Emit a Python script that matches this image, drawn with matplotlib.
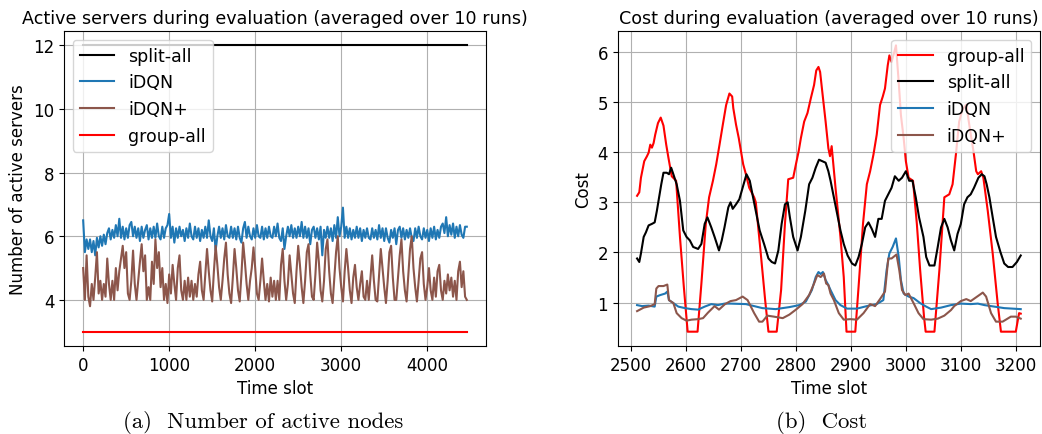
import numpy as np
import matplotlib.pyplot as plt

# ---- left panel: active servers, sampled every 20 time slots ----
t_left = np.arange(0, 4480, 20)

split_all_servers = 12.0
group_all_servers = 3.0

idqn_servers = [
    6.50, 5.50, 5.90, 5.60, 5.90, 5.50, 5.85, 5.40, 5.95, 5.65,
    6.00, 5.70, 6.05, 5.75, 6.10, 6.25, 5.90, 6.20, 5.95, 6.35,
    6.00, 6.55, 5.95, 6.30, 5.90, 6.25, 5.95, 6.35, 6.45, 6.00,
    6.30, 5.95, 6.25, 5.85, 6.30, 5.95, 6.20, 6.35, 5.90, 6.25,
    5.95, 6.30, 5.95, 6.40, 6.00, 5.90, 6.30, 5.95, 6.25, 6.35,
    6.70, 5.95, 6.30, 5.80, 6.25, 5.95, 6.30, 6.00, 6.20, 5.85,
    6.25, 5.95, 6.40, 6.00, 5.90, 6.30, 5.95, 6.25, 5.85, 6.20,
    5.95, 6.30, 5.95, 6.50, 6.00, 5.85, 6.25, 5.55, 6.00, 6.30,
    5.95, 6.25, 5.90, 6.35, 6.00, 5.95, 6.30, 5.95, 6.25, 5.90,
    6.30, 5.95, 5.80, 6.25, 6.45, 5.95, 6.30, 6.00, 5.90, 6.25,
    5.95, 6.35, 6.00, 5.95, 6.30, 5.90, 6.25, 5.95, 6.30, 6.00,
    5.95, 6.30, 6.00, 6.40, 5.95, 5.85, 6.25, 5.60, 6.00, 6.30,
    6.00, 6.35, 5.95, 6.25, 5.95, 6.30, 6.00, 6.45, 5.95, 6.30,
    5.95, 6.25, 5.75, 6.20, 6.30, 5.95, 6.25, 5.90, 6.30, 5.40,
    6.20, 5.95, 6.30, 5.95, 6.25, 5.85, 6.35, 5.95, 6.60, 6.00,
    6.30, 6.90, 5.95, 6.30, 5.95, 6.25, 5.90, 6.20, 5.95, 6.30,
    5.95, 6.25, 5.85, 6.20, 5.95, 6.25, 5.95, 5.90, 6.25, 5.95,
    6.20, 5.90, 6.35, 5.95, 6.25, 5.85, 6.25, 5.95, 5.80, 6.20,
    5.95, 6.25, 5.75, 6.20, 6.30, 5.95, 6.25, 5.90, 6.20, 5.95,
    6.25, 5.95, 5.85, 6.25, 5.95, 6.30, 6.00, 5.90, 6.25, 5.95,
    6.20, 5.85, 6.25, 5.95, 6.30, 5.90, 6.20, 5.95, 6.30, 6.40,
    6.10, 6.60, 6.00, 6.35, 6.05, 6.40, 5.95, 6.30, 6.00, 6.35,
    6.05, 5.95, 6.30, 6.30,
]

idqn_plus_servers = [
    5.00, 4.00, 5.40, 4.10, 3.80, 4.50, 4.00, 4.70, 5.50, 4.20,
    4.60, 4.00, 4.50, 4.10, 5.30, 4.50, 4.00, 4.60, 4.00, 5.00,
    4.30, 4.90, 5.30, 5.70, 5.00, 5.50, 4.20, 4.00, 4.60, 5.55,
    4.50, 4.00, 4.60, 5.20, 5.75, 4.90, 5.40, 4.00, 4.40, 4.00,
    5.20, 4.50, 5.90, 5.00, 5.50, 4.40, 5.00, 4.00, 4.50, 3.90,
    4.80, 4.20, 5.10, 4.50, 4.00, 5.00, 5.40, 4.30, 4.00, 4.60,
    4.00, 4.70, 4.10, 4.60, 4.00, 4.50, 4.10, 4.80, 5.20, 4.30,
    4.00, 4.80, 5.60, 4.90, 4.30, 3.95, 4.90, 5.70, 5.10, 4.40,
    4.00, 4.60, 5.30, 5.80, 4.80, 4.20, 3.90, 4.70, 5.60, 5.00,
    4.30, 3.95, 4.80, 5.80, 5.20, 4.50, 4.00, 4.60, 5.00, 5.65,
    5.00, 4.20, 4.00, 4.60, 5.30, 4.60, 4.00, 4.50, 3.95, 4.70,
    4.10, 4.60, 4.00, 4.60, 4.00, 5.10, 5.60, 4.60, 4.00, 4.50,
    5.40, 4.80, 4.20, 3.90, 4.90, 5.70, 5.10, 4.40, 3.90, 4.60,
    5.50, 5.75, 4.80, 4.10, 4.00, 4.80, 5.80, 5.20, 4.30, 3.95,
    4.60, 5.60, 5.90, 4.90, 4.20, 3.90, 4.70, 5.50, 6.00, 5.00,
    4.40, 3.95, 4.90, 5.60, 5.00, 4.30, 3.90, 4.70, 5.10, 4.40,
    4.00, 4.50, 4.90, 4.10, 4.00, 4.60, 4.00, 4.70, 5.40, 4.60,
    4.00, 3.95, 4.80, 5.60, 5.00, 4.40, 3.90, 4.60, 5.50, 5.70,
    4.70, 4.00, 4.00, 4.70, 5.40, 5.90, 4.90, 4.30, 3.95, 4.80,
    5.60, 6.00, 5.00, 4.40, 3.95, 4.60, 5.30, 5.50, 4.50, 4.00,
    4.40, 5.00, 4.30, 4.00, 4.70, 4.10, 4.90, 5.10, 4.30, 4.00,
    4.60, 4.20, 4.80, 4.30, 4.70, 4.10, 4.60, 4.00, 4.90, 5.20,
    4.40, 4.90, 4.10, 4.00,
]

# ---- right panel: cost ----
t_group = [2511, 2515, 2518, 2524, 2529, 2532, 2535, 2538, 2541, 2544,
           2549, 2554, 2559, 2564, 2568, 2574, 2582, 2589, 2596, 2603,
           2621, 2628, 2636, 2642, 2649, 2655, 2661, 2667, 2673, 2679,
           2684, 2686, 2691, 2696, 2700, 2704, 2709, 2715, 2724, 2727,
           2736, 2744, 2750, 2765, 2773, 2780, 2786, 2795, 2800, 2805,
           2809, 2815, 2821, 2827, 2833, 2837, 2841, 2844, 2848, 2854,
           2859, 2862, 2865, 2872, 2881, 2887, 2892, 2908, 2914, 2922,
           2929, 2935, 2941, 2947, 2953, 2958, 2962, 2967, 2970, 2974,
           2979, 2982, 2987, 2991, 2996, 3000, 3005, 3013, 3020, 3026,
           3033, 3036, 3052, 3061, 3070, 3079, 3085, 3091, 3094, 3097,
           3103, 3110, 3116, 3123, 3128, 3131, 3137, 3141, 3149, 3158,
           3167, 3173, 3200, 3206, 3209]
cost_group = [3.13, 3.20, 3.49, 3.82, 3.92, 3.99, 4.15, 4.09, 4.18, 4.35,
              4.58, 4.69, 4.53, 4.15, 3.89, 3.52, 3.43, 2.31, 1.32, 0.42,
              0.42, 1.38, 2.57, 3.10, 3.43, 3.76, 4.15, 4.55, 4.94, 5.17,
              5.11, 4.88, 4.55, 4.28, 4.02, 3.76, 3.56, 3.29, 3.10, 3.00,
              1.98, 1.05, 0.42, 0.42, 1.25, 2.57, 3.46, 3.49, 3.76, 4.02,
              4.28, 4.61, 4.78, 5.07, 5.34, 5.63, 5.70, 5.60, 5.20, 4.61,
              4.08, 3.92, 4.12, 3.29, 2.31, 1.51, 0.42, 0.42, 1.32, 2.57,
              3.36, 3.62, 3.95, 4.35, 4.94, 5.11, 5.27, 5.73, 5.93, 5.80,
              6.00, 6.13, 5.40, 4.74, 4.28, 3.82, 3.49, 3.43, 2.57, 1.65,
              0.72, 0.42, 0.42, 1.65, 3.10, 3.16, 3.36, 3.95, 4.28, 4.61,
              4.85, 4.95, 4.50, 4.02, 3.62, 3.56, 3.62, 3.49, 2.83, 1.98,
              0.99, 0.42, 0.42, 0.79, 0.78]

t_split = [2511, 2515, 2518, 2523, 2527, 2532, 2538, 2543, 2547, 2550,
           2555, 2559, 2565, 2569, 2573, 2577, 2583, 2589, 2595, 2601,
           2607, 2613, 2622, 2628, 2634, 2639, 2646, 2652, 2660, 2665,
           2670, 2677, 2681, 2685, 2691, 2697, 2703, 2710, 2716, 2722,
           2728, 2734, 2742, 2750, 2756, 2762, 2768, 2774, 2780, 2785,
           2789, 2795, 2803, 2809, 2817, 2824, 2830, 2836, 2842, 2848,
           2854, 2859, 2863, 2869, 2875, 2881, 2887, 2894, 2902, 2908,
           2914, 2920, 2926, 2932, 2938, 2944, 2950, 2956, 2962, 2968,
           2974, 2980, 2987, 2993, 3000, 3006, 3012, 3018, 3024, 3032,
           3037, 3043, 3052, 3058, 3064, 3070, 3076, 3082, 3088, 3094,
           3100, 3106, 3112, 3118, 3124, 3132, 3138, 3143, 3147, 3152,
           3158, 3164, 3172, 3179, 3186, 3194, 3202, 3209]
cost_split = [1.88, 1.81, 1.98, 2.31, 2.40, 2.54, 2.57, 2.60, 2.83, 3.03,
              3.36, 3.59, 3.59, 3.56, 3.69, 3.56, 3.36, 3.03, 2.44, 2.31,
              2.24, 2.11, 2.07, 2.17, 2.57, 2.70, 2.50, 2.31, 2.04, 2.24,
              2.50, 2.90, 3.00, 2.87, 2.96, 3.06, 3.29, 3.56, 3.43, 3.10,
              2.77, 2.44, 2.17, 1.88, 1.81, 1.78, 2.04, 2.57, 2.96, 3.00,
              2.70, 2.31, 2.04, 2.31, 2.83, 3.36, 3.49, 3.69, 3.85, 3.82,
              3.79, 3.62, 3.43, 3.10, 2.77, 2.44, 2.17, 1.94, 1.78, 1.74,
              1.91, 2.17, 2.50, 2.60, 2.47, 2.31, 2.67, 2.67, 3.03, 3.16,
              3.29, 3.52, 3.43, 3.49, 3.62, 3.43, 3.43, 3.10, 2.70, 2.31,
              1.91, 1.74, 1.74, 2.11, 2.50, 2.67, 2.50, 2.24, 2.04, 2.37,
              2.57, 2.96, 3.10, 3.16, 3.29, 3.49, 3.56, 3.52, 3.36, 3.10,
              2.70, 2.31, 2.01, 1.78, 1.71, 1.71, 1.81, 1.94]

t_idqn = [2511, 2520, 2532, 2543, 2546, 2553, 2562, 2566, 2569, 2577,
          2586, 2598, 2610, 2622, 2634, 2646, 2658, 2670, 2681, 2709,
          2739, 2763, 2788, 2806, 2818, 2829, 2836, 2841, 2845, 2849,
          2854, 2859, 2863, 2872, 2881, 2893, 2911, 2929, 2947, 2959,
          2965, 2970, 2976, 2982, 2987, 2991, 2996, 3005, 3014, 3026,
          3037, 3046, 3064, 3082, 3100, 3118, 3131, 3143, 3161, 3179,
          3209]
cost_idqn = [0.95, 0.93, 0.94, 0.92, 1.12, 1.15, 1.18, 1.22, 1.05, 0.99,
             0.92, 0.89, 0.87, 0.86, 0.92, 0.97, 0.95, 0.98, 0.98, 0.97,
             0.89, 0.87, 0.91, 0.95, 1.02, 1.25, 1.51, 1.61, 1.57, 1.61,
             1.45, 1.35, 1.25, 1.05, 0.95, 0.88, 0.88, 0.93, 0.97, 1.05,
             1.65, 1.98, 2.11, 2.28, 1.91, 1.45, 1.18, 1.12, 1.09, 0.99,
             0.92, 0.87, 0.90, 0.95, 0.98, 0.97, 0.98, 0.95, 0.92, 0.89,
             0.87]

t_idqn_plus = [2511, 2523, 2535, 2543, 2546, 2550, 2559, 2566, 2569, 2577,
               2583, 2592, 2601, 2610, 2622, 2631, 2640, 2652, 2660, 2671,
               2681, 2691, 2703, 2712, 2724, 2733, 2739, 2748, 2760, 2776,
               2788, 2800, 2812, 2824, 2833, 2839, 2845, 2851, 2855, 2859,
               2863, 2869, 2878, 2887, 2899, 2911, 2923, 2935, 2944, 2953,
               2962, 2968, 2974, 2983, 2988, 2993, 2999, 3005, 3014, 3023,
               3032, 3046, 3058, 3070, 3082, 3088, 3100, 3110, 3118, 3131,
               3140, 3146, 3155, 3164, 3176, 3191, 3200, 3209]
cost_idqn_plus = [0.83, 0.90, 0.93, 0.97, 1.28, 1.33, 1.33, 1.36, 1.05, 0.99,
                  0.79, 0.69, 0.64, 0.66, 0.67, 0.69, 0.80, 0.93, 0.86, 0.97,
                  1.03, 1.05, 1.12, 1.05, 0.79, 0.62, 0.62, 0.74, 0.72, 0.69,
                  0.76, 0.86, 0.97, 1.15, 1.38, 1.55, 1.51, 1.58, 1.38, 1.35,
                  1.18, 1.05, 0.79, 0.66, 0.67, 0.66, 0.79, 0.97, 0.93, 1.07,
                  1.22, 1.88, 1.88, 1.96, 1.65, 1.25, 1.15, 1.18, 0.99, 0.79,
                  0.67, 0.66, 0.68, 0.74, 0.85, 0.93, 1.03, 1.07, 1.03, 1.13,
                  1.20, 1.12, 0.79, 0.62, 0.62, 0.72, 0.72, 0.68]

plt.rcParams['font.size'] = 12

fig = plt.figure(figsize=(10.42, 4.35), dpi=100)
ax1 = fig.add_axes([0.0614, 0.2023, 0.405, 0.724])
ax2 = fig.add_axes([0.593, 0.2023, 0.405, 0.724])

# left: number of active servers
ax1.plot(t_left, np.full(len(t_left), split_all_servers), color='black', label='split-all')
ax1.plot(t_left, idqn_servers, color='tab:blue', label='iDQN')
ax1.plot(t_left, idqn_plus_servers, color='tab:brown', label='iDQN+')
ax1.plot(t_left, np.full(len(t_left), group_all_servers), color='red', label='group-all')
ax1.set_title("Active servers during evaluation (averaged over 10 runs)", fontsize=12.6)
ax1.set_xlabel("Time slot")
ax1.set_ylabel("Number of active servers")
ax1.grid(True)
ax1.legend(loc='upper left', fontsize=12.5)

# right: cost
ax2.plot(t_group, cost_group, color='red', label='group-all')
ax2.plot(t_split, cost_split, color='black', label='split-all')
ax2.plot(t_idqn, cost_idqn, color='tab:blue', label='iDQN')
ax2.plot(t_idqn_plus, cost_idqn_plus, color='tab:brown', label='iDQN+')
ax2.set_title("Cost during evaluation (averaged over 10 runs)", fontsize=12.6)
ax2.set_xlabel("Time slot")
ax2.set_ylabel("Cost")
ax2.grid(True)
ax2.legend(loc='upper right', fontsize=12.5)

# sub-figure captions
fig.text(263 / 1042, 1 - 423 / 435, "(a)  Number of active nodes", ha='center', va='center',
         fontfamily='cmr10', fontsize=16.4)
fig.text(822 / 1042, 1 - 423 / 435, "(b)  Cost", ha='center', va='center',
         fontfamily='cmr10', fontsize=16.4)

fig.savefig('out.png', dpi=100)
